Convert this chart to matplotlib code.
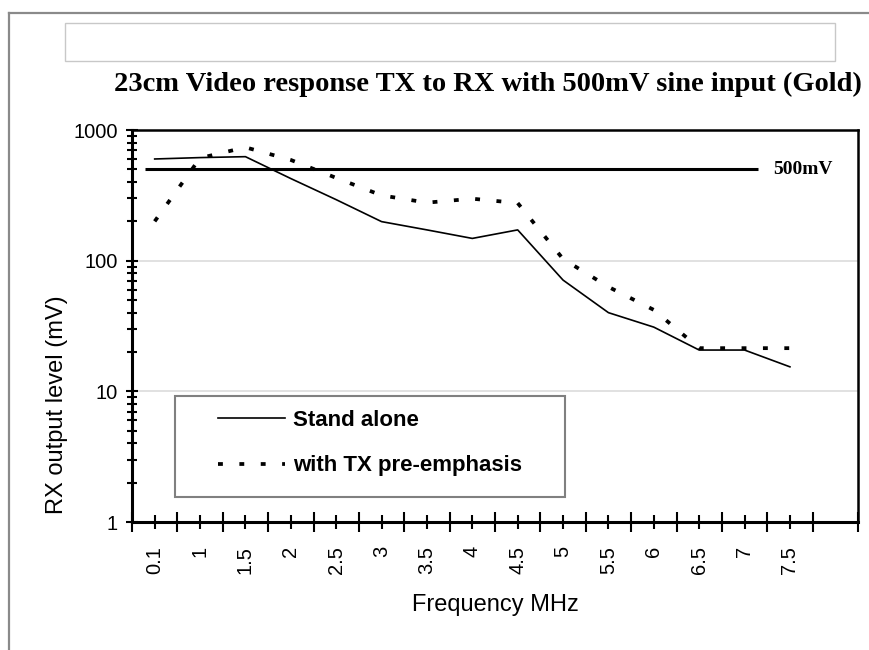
import matplotlib
matplotlib.use("Agg")
import matplotlib.pyplot as plt
from matplotlib.patches import Rectangle
from matplotlib.lines import Line2D

# data (mV, log scale)
freq_labels = ["0.1", "1", "1.5", "2", "2.5", "3", "3.5", "4", "4.5",
               "5", "5.5", "6", "6.5", "7", "7.5"]
stand_alone = [600, 615, 625, 425, 293, 199, 172, 148, 172,
               71, 40, 31, 20.7, 20.7, 15.4]
pre_emphasis = [200, 610, 737, 590, 430, 316, 278, 298, 276,
                103, 63, 42, 21.4, 21.4, 21.4]
ref_level = 500
ref_label = "500mV"
n_slots = 16  # excel category axis has one empty slot at the end

W, H = 869, 650
def fx(x):
    return x / W
def fy(y):
    return 1 - y / H

SANS = "Liberation Sans"
SERIF = "Liberation Serif"

fig = plt.figure(figsize=(W / 100, H / 100), dpi=100)
fig.patch.set_facecolor("white")

# outer gray frame (top + left) and the empty box above the title
fig.add_artist(Line2D([fx(9), fx(869)], [fy(13), fy(13)], color="#8a8a8a", lw=1.6))
fig.add_artist(Line2D([fx(9), fx(9)], [fy(13), fy(650)], color="#8a8a8a", lw=1.6))
fig.add_artist(Rectangle((fx(65), fy(61)), fx(835) - fx(65), fy(23) - fy(61),
                         transform=fig.transFigure, fill=False,
                         edgecolor="#c8c8c8", lw=1))

fig.text(fx(488), fy(84), "23cm Video response TX to RX with 500mV sine input (Gold)",
         family=SERIF, weight="bold", fontsize=20.5, ha="center", va="center")

ax = fig.add_axes([fx(132), fy(522), fx(858) - fx(132), fy(130) - fy(522)])
x = list(range(len(freq_labels)))

ax.plot(x, stand_alone, color="black", lw=1.2, label="Stand alone")
ax.plot(x, pre_emphasis, color="black", lw=2.7, linestyle=(0, (1.3, 4.4)),
        dash_capstyle="butt", label="with TX pre-emphasis")
ax.hlines(ref_level, -0.21, 13.3, color="black", lw=2.2)
ax.text(13.63, ref_level, ref_label, family=SERIF, weight="bold",
        fontsize=14, ha="left", va="center")

ax.set_yscale("log")
ax.set_ylim(1, 1000)
ax.set_xlim(-0.5, n_slots - 0.5)

ax.set_yticks([1, 10, 100, 1000], labels=["1", "10", "100", "1000"])
ax.set_yticks([m * 10 ** d for d in range(3) for m in range(2, 10)], minor=True)
ax.yaxis.set_minor_formatter(plt.NullFormatter())
ax.tick_params(axis="y", which="major", direction="inout", length=9, width=1.5,
               pad=5.5, labelsize=14.5)
ax.tick_params(axis="y", which="minor", direction="inout", length=7, width=1.5)

ax.set_xticks([i - 0.5 for i in range(n_slots + 1)], labels=[""] * (n_slots + 1))
ax.set_xticks(x, labels=freq_labels, minor=True, rotation=90)
ax.tick_params(axis="x", which="major", direction="inout", length=14.4, width=1.5)
ax.tick_params(axis="x", which="minor", direction="inout", length=10.5, width=1.5,
               pad=12, labelsize=14.5)
for lab in ax.get_xticklabels(minor=True) + ax.get_yticklabels():
    lab.set_family(SANS)

ax.grid(axis="y", which="major", color="#dcdcdc", lw=1.2)
ax.set_axisbelow(True)
for side in ["left", "bottom"]:
    ax.spines[side].set_linewidth(2.2)
for side in ["top", "right"]:
    ax.spines[side].set_linewidth(1.8)

fig.text(fx(57), fy(405), "RX output level (mV)", family=SANS, fontsize=17,
         rotation=90, ha="center", va="center")
fig.text(fx(495), fy(605), "Frequency MHz", family=SANS, fontsize=17,
         ha="center", va="center")

# legend: wide gray frame drawn separately, entries placed inside it
ax.add_patch(Rectangle((fx(175), fy(497)), fx(565) - fx(175), fy(396) - fy(497),
                       transform=fig.transFigure, facecolor="white",
                       edgecolor="#808080", lw=1.5, zorder=5, clip_on=False))
leg = ax.legend(loc="upper left", bbox_to_anchor=(fx(218), fy(410)),
                bbox_transform=fig.transFigure, frameon=False, borderpad=0,
                borderaxespad=0, handlelength=3.0, handletextpad=0.38,
                labelspacing=1.1, prop={"family": SANS, "weight": "bold", "size": 16})
leg.set_zorder(6)

fig.savefig("out.png", dpi=100)
